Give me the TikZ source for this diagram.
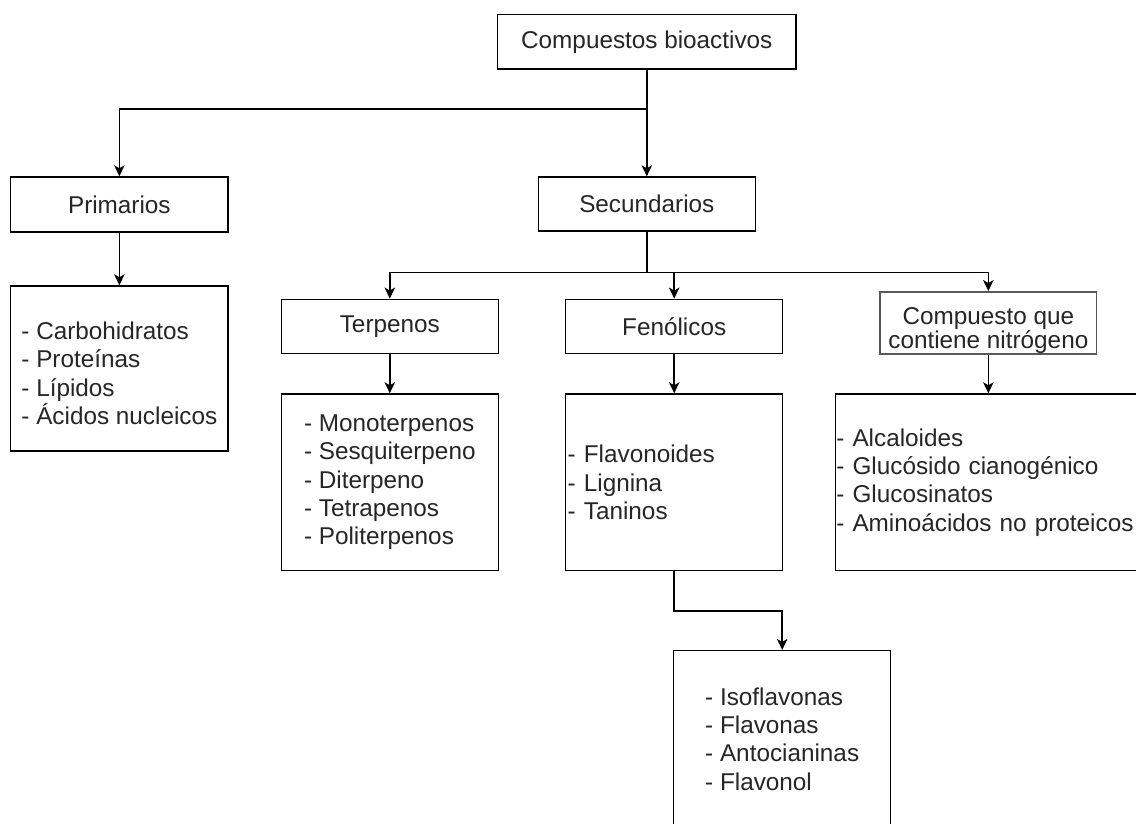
\documentclass[tikz,border=0pt]{standalone}
\usepackage{fontspec}
\setmainfont{Liberation Sans}
\usetikzlibrary{arrows.meta}
\tikzset{
  box/.style={draw=black, line width=1.5pt, inner sep=0pt, text=black!85,
    font=\fontsize{24.3}{28.3}\selectfont, align=left},
  wire/.style={line width=1.5pt},
  conn/.style={wire, -{Stealth[length=11pt,width=10.5pt,inset=3pt]}},
}
\begin{document}
\begin{tikzpicture}[x=1pt,y=-1pt]
\useasboundingbox (0,0) rectangle (1136,823);
\clip (0,0) rectangle (1136,823);
\fill[white] (0,0) rectangle (1136,823);

% boxes
\node[box, minimum width=298.3pt, minimum height=54.3pt] (top) at (646.8,41.85) {Compuestos bioactivos};
\node[box, minimum width=217.3pt, minimum height=55pt] (prim) at (119.35,204.5) {Primarios};
\node[box, minimum width=217pt, minimum height=54pt] (sec) at (646.8,204) {Secundarios};
\node[box, minimum width=217.3pt, minimum height=165pt] (priml) at (119.35,368.5)
  {\rule{0pt}{27pt}- Carbohidratos\\- Proteínas\\- Lípidos\\- Ácidos nucleicos};
\node[box, minimum width=217pt, minimum height=54pt] (terp) at (389.8,326.3) {Terpenos};
\node[box, minimum width=217pt, minimum height=54pt] (fen) at (674.2,326.3) {Fenólicos};
\node[box, draw=black!65, minimum width=216.7pt, minimum height=61pt,
  align=center, font=\fontsize{24.3}{24}\selectfont] (nit) at (988.35,322.8)
  {\rule{0pt}{33pt}Compuesto que\\contiene nitrógeno};
\node[box, minimum width=217pt, minimum height=176.7pt] (terpl) at (389.8,482.35)
  {- Monoterpenos\\- Sesquiterpeno\\- Diterpeno\\- Tetrapenos\\- Politerpenos};
\node[box, minimum width=217pt, minimum height=176.7pt, text width=213pt, inner xsep=2pt] (fenl) at (674.2,482.35)
  {- Flavonoides\\- Lignina\\- Taninos};
\node[box, minimum width=305.3pt, minimum height=176.7pt, text width=304pt, inner xsep=1pt] (nitl) at (988.35,482.35)
  {- Alcaloides\\- Glucósido cianogénico\\- Glucosinatos\\- Aminoácidos no proteicos};
\node[box, minimum width=217pt, minimum height=176.7pt] (bot) at (782.2,739.05)
  {- Isoflavonas\\- Flavonas\\- Antocianinas\\- Flavonol};

% junction levels
\coordinate (jA) at (0,109);
\coordinate (jB) at (0,272.7);
\coordinate (jC) at (0,611);

% connectors
\draw[conn] (top.south) -- (top.south |- jA) -| (prim.north);
\draw[conn] (top.south) -- (sec.north);
\draw[conn] (prim.south) -- (priml.north);
\draw[conn] (sec.south) -- (sec.south |- jB) -| (terp.north);
\draw[conn] (sec.south |- jB) -| (fen.north);
\draw[conn] (sec.south |- jB) -| (nit.north);
\draw[conn] (terp.south) -- (terpl.north);
\draw[conn] (fen.south) -- (fenl.north);
\draw[conn] (nit.south) -- (nitl.north);
\draw[conn] (fenl.south) -- (fenl.south |- jC) -| (bot.north);
\end{tikzpicture}
\end{document}
